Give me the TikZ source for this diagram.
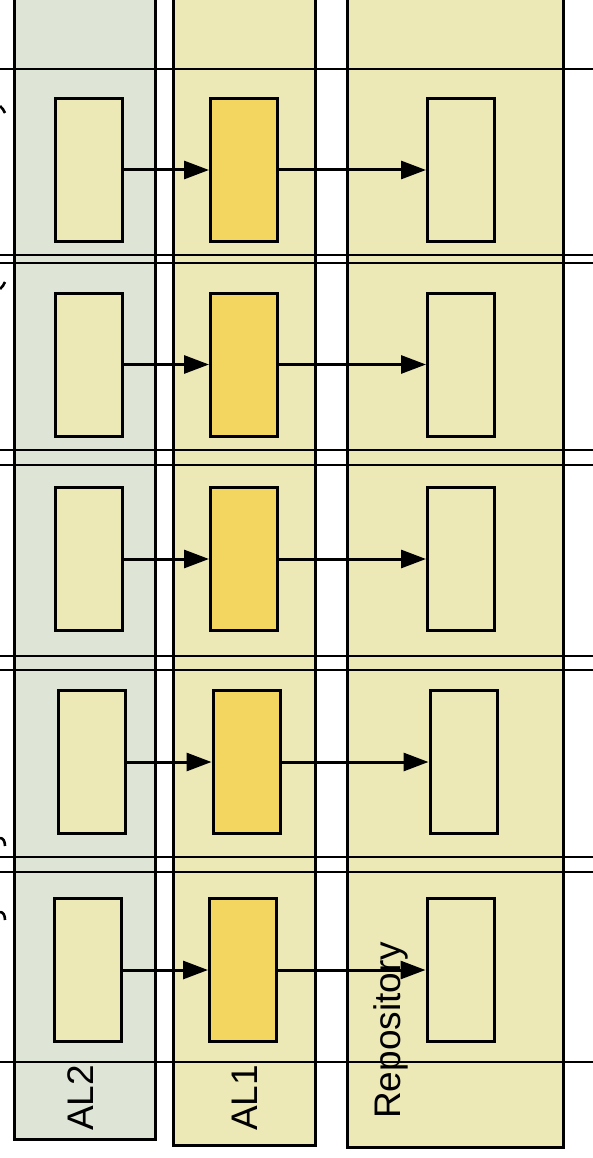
\documentclass[tikz,border=0pt]{standalone}
\usepackage{fontspec}
\setmainfont{Liberation Sans}
\usetikzlibrary{arrows.meta}
\definecolor{laneG}{HTML}{DFE5D6}
\definecolor{laneY}{HTML}{EDE9B7}
\definecolor{boxO}{HTML}{F2D660}
\tikzset{
  lane/.style={draw=black, line width=3pt},
  sep/.style={draw=black, line width=2.8pt},
  box/.style={draw=black, line width=3pt, rectangle, inner sep=0pt, minimum width=67pt, minimum height=143pt},
  lightbox/.style={box, fill=laneY},
  darkbox/.style={box, fill=boxO},
  flow/.style={line width=3pt, -{Triangle[length=25pt,width=18pt]}},
  lanelabel/.style={rotate=90, anchor=base west, inner sep=0pt, font=\fontsize{37}{44}\selectfont},
  glyph/.style={line width=2.6pt, line cap=butt}
}
\begin{document}
\begin{tikzpicture}[x=1pt,y=-1pt]
\useasboundingbox (0,0) rectangle (593,1158);
% lanes
\path[lane, fill=laneG] (14,-10) rectangle (155,1139);
\path[lane, fill=laneY] (173,-10) rectangle (315,1145);
\path[lane, fill=laneY] (347,-10) rectangle (563,1147);
% row separators
\foreach \yy in {69,255,263,450,465,656,670,857,872,1062}
  \draw[sep] (0,\yy) -- (593,\yy);
% clipped glyph fragments at the left edge
\draw[glyph] (0,106) .. controls (2,108) and (4,110) .. (5,113);
\draw[glyph] (0,289) .. controls (2,287) and (4,285) .. (5,282);
\draw[glyph] (0,838) .. controls (3,838) and (5,841) .. (5,846);
\draw[glyph] (0,912) .. controls (3,912) and (5,915) .. (5,920);
% boxes
\node[lightbox] (a1) at (89,170) {};
\node[darkbox]  (b1) at (244,170) {};
\node[lightbox] (c1) at (461,170) {};
\node[lightbox] (a2) at (89,364.5) {};
\node[darkbox]  (b2) at (244,364.5) {};
\node[lightbox] (c2) at (461,364.5) {};
\node[lightbox] (a3) at (89,559) {};
\node[darkbox]  (b3) at (244,559) {};
\node[lightbox] (c3) at (461,559) {};
\node[lightbox] (a4) at (91.5,762) {};
\node[darkbox]  (b4) at (246.5,762) {};
\node[lightbox] (c4) at (463.5,762) {};
\node[lightbox] (a5) at (88,970) {};
\node[darkbox]  (b5) at (243,970) {};
\node[lightbox] (c5) at (460.5,970) {};
% arrows
\foreach \i in {1,...,5}{
  \draw[flow] (a\i.east) -- (b\i.west);
  \draw[flow] (b\i.east) -- (c\i.west);
}
% lane labels
\node[lanelabel] (l2) at (93,1131) {AL2};
\node[lanelabel] (l1) at (257,1131) {AL1};
\node[lanelabel] (lr) at (400,1119) {Repository};
\end{tikzpicture}
\end{document}
